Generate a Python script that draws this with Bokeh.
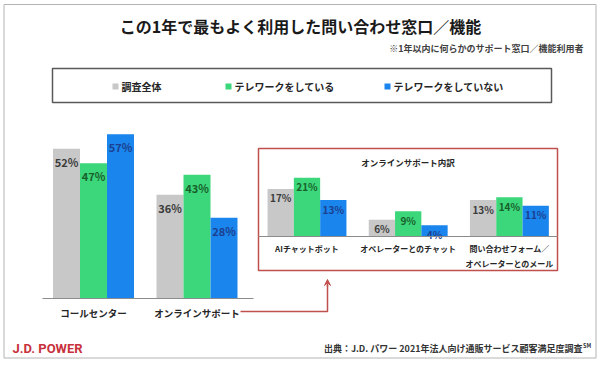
from bokeh.plotting import figure
from bokeh.models import Range1d, ColumnDataSource, Arrow, VeeHead
from bokeh.transform import dodge
from bokeh.core.properties import value
from bokeh.embed import file_html
from bokeh.resources import INLINE

# ---------------- data ----------------
title = "この1年で最もよく利用した問い合わせ窓口／機能"
note = "※1年以内に何らかのサポート窓口／機能利用者"
series = ["調査全体", "テレワークをしている", "テレワークをしていない"]
main_cats = ["コールセンター", "オンラインサポート"]
main_all = [52, 36]
main_tw = [47, 43]
main_notw = [57, 28]
inset_title = "オンラインサポート内訳"
inset_cats = ["AIチャットボット", "オペレーターとのチャット", "問い合わせフォーム／\nオペレーターとのメール"]
inset_all = [17, 6, 13]
inset_tw = [21, 9, 14]
inset_notw = [13, 4, 11]
brand = "J.D. POWER"
source_note = "出典：J.D. パワー 2021年法人向け通販サービス顧客満足度調査"
source_mark = "SM"

# ---------------- style ----------------
W, H = 600, 365
OFF = 0
JP = value("Noto Sans CJK JP")
bar_colors = ["#c8c8c8", "#3cd77b", "#1a85ec"]
lbl_colors = ["#3c3c3c", "#17602a", "#1c3f8f"]
RED = "#c0504d"
TXT = "#262626"


def fx(px):
    return px - OFF


def fy(py):
    return py - OFF


p = figure(width=W, height=H, x_range=Range1d(0, W), y_range=Range1d(H, 0),
           output_backend="svg", toolbar_location=None, min_border=0,
           x_axis_location=None, y_axis_location=None)
p.grid.visible = False
p.outline_line_color = None
p.background_fill_color = "white"
p.border_fill_color = "white"

# outer frame
p.quad(left=fx(3.5), right=fx(595.5), top=fy(4), bottom=fy(357.5),
       fill_color=None, line_color="#b4b4b4", line_width=1)

# ---------------- main chart scales ----------------
MAIN_BASE = fy(298)
MAIN_PX = 2.88
MAIN_X0 = fx(93)
MAIN_STEP = 103.5
MAIN_BAR = 27.0
p.extra_y_ranges["main_y"] = Range1d(start=-(H - MAIN_BASE) / MAIN_PX, end=MAIN_BASE / MAIN_PX)
p.extra_x_ranges["main_x"] = Range1d(start=-MAIN_X0 / MAIN_STEP, end=(W - MAIN_X0) / MAIN_STEP)

# ---------------- inset scales ----------------
INS_BASE = fy(236)
INS_PX = 2.8
INS_X0 = fx(306.5)
INS_STEP = 101.2
INS_BAR = 26.3
p.extra_y_ranges["ins_y"] = Range1d(start=-(H - INS_BASE) / INS_PX, end=INS_BASE / INS_PX)
p.extra_x_ranges["ins_x"] = Range1d(start=-INS_X0 / INS_STEP, end=(W - INS_X0) / INS_STEP)


def draw_group(cats, vals_list, xr, yr, step, bar_px, lbl_size, lbl_off):
    w = bar_px / step
    for i, vals in enumerate(vals_list):
        src = ColumnDataSource(dict(idx=list(range(len(cats))), v=vals,
                                    lbl=[f"{v}%" for v in vals]))
        off = (i - 1) * w
        p.vbar(x=dodge("idx", off), top="v", bottom=0, width=w, source=src,
               fill_color=bar_colors[i], line_color=None,
               x_range_name=xr, y_range_name=yr)
        p.text(x=dodge("idx", off), y="v", text="lbl", source=src,
               x_range_name=xr, y_range_name=yr, y_offset=lbl_off,
               text_align="center", text_baseline="middle",
               text_font=JP, text_font_style="bold", text_font_size=lbl_size,
               text_color=lbl_colors[i])


# main bars
draw_group(main_cats, [main_all, main_tw, main_notw], "main_x", "main_y",
           MAIN_STEP, MAIN_BAR, "11px", 13)
# main axis line
p.line([fx(42), fx(253)], [MAIN_BASE, MAIN_BASE], line_color="#8c8c8c", line_width=1.2)
# main category labels
p.text(x="idx", y=0, text="cat",
       source=ColumnDataSource(dict(idx=list(range(len(main_cats))), cat=main_cats)),
       x_range_name="main_x", y_range_name="main_y", y_offset=14,
       text_align="center", text_baseline="middle",
       text_font=JP, text_font_style="bold", text_font_size="9.5px", text_color=TXT)

# inset box
p.quad(left=fx(258), right=fx(557), top=fy(148), bottom=fy(270),
       fill_color=None, line_color=RED, line_width=1.5)
p.text(x=[fx(407.5)], y=[fy(161)], text=[inset_title], text_align="center",
       text_baseline="middle", text_font=JP, text_font_style="bold",
       text_font_size="8.5px", text_color=TXT)
draw_group(inset_cats, [inset_all, inset_tw, inset_notw], "ins_x", "ins_y",
           INS_STEP, INS_BAR, "10px", 9)
p.line([fx(258), fx(557)], [INS_BASE, INS_BASE], line_color="#8c8c8c", line_width=1.2)
line1 = [c.split("\n")[0] for c in inset_cats]
line2 = [c.split("\n")[1] if "\n" in c else "" for c in inset_cats]
ins_lbl_src = ColumnDataSource(dict(idx=list(range(len(inset_cats))), l1=line1, l2=line2))
for col, yo in (("l1", 12), ("l2", 27)):
    p.text(x="idx", y=0, text=col, source=ins_lbl_src,
           x_range_name="ins_x", y_range_name="ins_y", y_offset=yo,
           text_align="center", text_baseline="middle",
           text_font=JP, text_font_style="bold", text_font_size="8px", text_color=TXT)

# connector arrow
p.line([fx(240), fx(327), fx(327)], [fy(311), fy(311), fy(284)], line_color=RED, line_width=1.5)
p.add_layout(Arrow(end=VeeHead(size=6, fill_color=RED, line_color=RED, line_width=1),
                   x_start=fx(327), y_start=fy(286), x_end=fx(327), y_end=fy(279),
                   line_color=RED, line_width=1.5))

# title & note
p.text(x=[fx(300)], y=[fy(25)], text=[title], text_align="center", text_baseline="middle",
       text_font=JP, text_font_style="bold", text_font_size="16px", text_color="#1a1a1a")
p.text(x=[fx(583)], y=[fy(48)], text=[note], text_align="right", text_baseline="middle",
       text_font=JP, text_font_style="bold", text_font_size="9px", text_color="#404040")

# legend (drawn)
p.quad(left=fx(52), right=fx(551), top=fy(68), bottom=fy(102),
       fill_color=None, line_color="#595959", line_width=1.5)
leg_sq_x = [fx(115), fx(228), fx(387)]
leg_tx_x = [fx(121), fx(234), fx(393)]
for i, name in enumerate(series):
    p.rect(x=[leg_sq_x[i]], y=[fy(86)], width=6, height=6,
           fill_color=bar_colors[i], line_color=None)
    p.text(x=[leg_tx_x[i]], y=[fy(86)], text=[name], text_align="left",
           text_baseline="middle", text_font=JP, text_font_style="bold",
           text_font_size="10px", text_color=TXT)

# footer
p.text(x=[fx(12)], y=[fy(348)], text=[brand], text_align="left", text_baseline="middle",
       text_font=value("Roboto"), text_font_style="bold", text_font_size="13px",
       text_color="#c8323c")
p.text(x=[fx(582)], y=[fy(348)], text=[source_note], text_align="right",
       text_baseline="middle", text_font=JP, text_font_style="bold",
       text_font_size="9px", text_color="#333333")
p.text(x=[fx(582.5)], y=[fy(345)], text=[source_mark], text_align="left",
       text_baseline="middle", text_font=JP, text_font_style="bold",
       text_font_size="5.5px", text_color="#333333")

open("out.html", "w").write(file_html(p, INLINE))
